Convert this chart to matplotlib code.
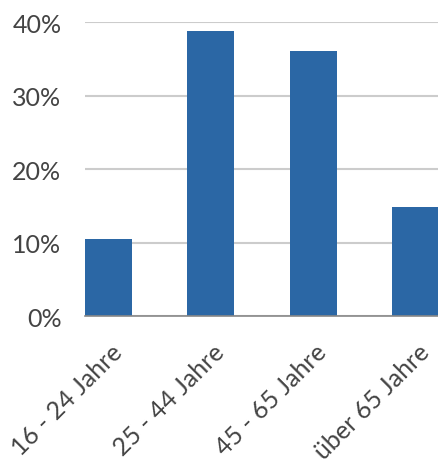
import matplotlib
matplotlib.use('Agg')
import matplotlib.pyplot as plt
import matplotlib.transforms as mtransforms
from matplotlib.ticker import FuncFormatter

# Age groups and their share
age_groups = ['16 - 24 Jahre', '25 - 44 Jahre', '45 - 65 Jahre', 'über 65 Jahre']
shares = [10.5, 38.8, 36.0, 14.8]
y_ticks = [0, 10, 20, 30, 40]

plt.rcParams['font.family'] = ['Lato', 'DejaVu Sans']

fig = plt.figure(figsize=(4.39, 4.64), dpi=100)
ax = fig.add_axes([0.1936, 0.3168, 0.8064, 0.6336])

x = range(len(age_groups))
ax.bar(x, shares, width=0.46, color='#2b67a5', zorder=3)

ax.set_xlim(-0.23, 3.23)
ax.set_ylim(0, 40)
ax.set_yticks(y_ticks)
ax.yaxis.set_major_formatter(FuncFormatter(lambda v, _: f'{v:.0f}%'))
ax.grid(axis='y', color='#cccccc', linewidth=1.5, zorder=0)
ax.set_axisbelow(True)

for side in ['top', 'right', 'left']:
    ax.spines[side].set_visible(False)
ax.spines['bottom'].set_color('#888888')
ax.spines['bottom'].set_linewidth(1.2)
ax.spines['bottom'].set_zorder(4)

ax.tick_params(axis='y', length=0, pad=17, labelsize=18, labelcolor='#444444')
ax.tick_params(axis='x', length=0, pad=0, labelsize=18, labelcolor='#444444')
ax.set_xticks(list(x))
ax.set_xticklabels(age_groups, rotation=45, ha='right', va='center',
                   rotation_mode='anchor')

# shift rotated labels so their ends sit below-right of each bar
shift = mtransforms.ScaledTranslation(0.10, -0.32, fig.dpi_scale_trans)
for lbl in ax.get_xticklabels():
    lbl.set_transform(lbl.get_transform() + shift)

fig.savefig('out.png', dpi=100)
